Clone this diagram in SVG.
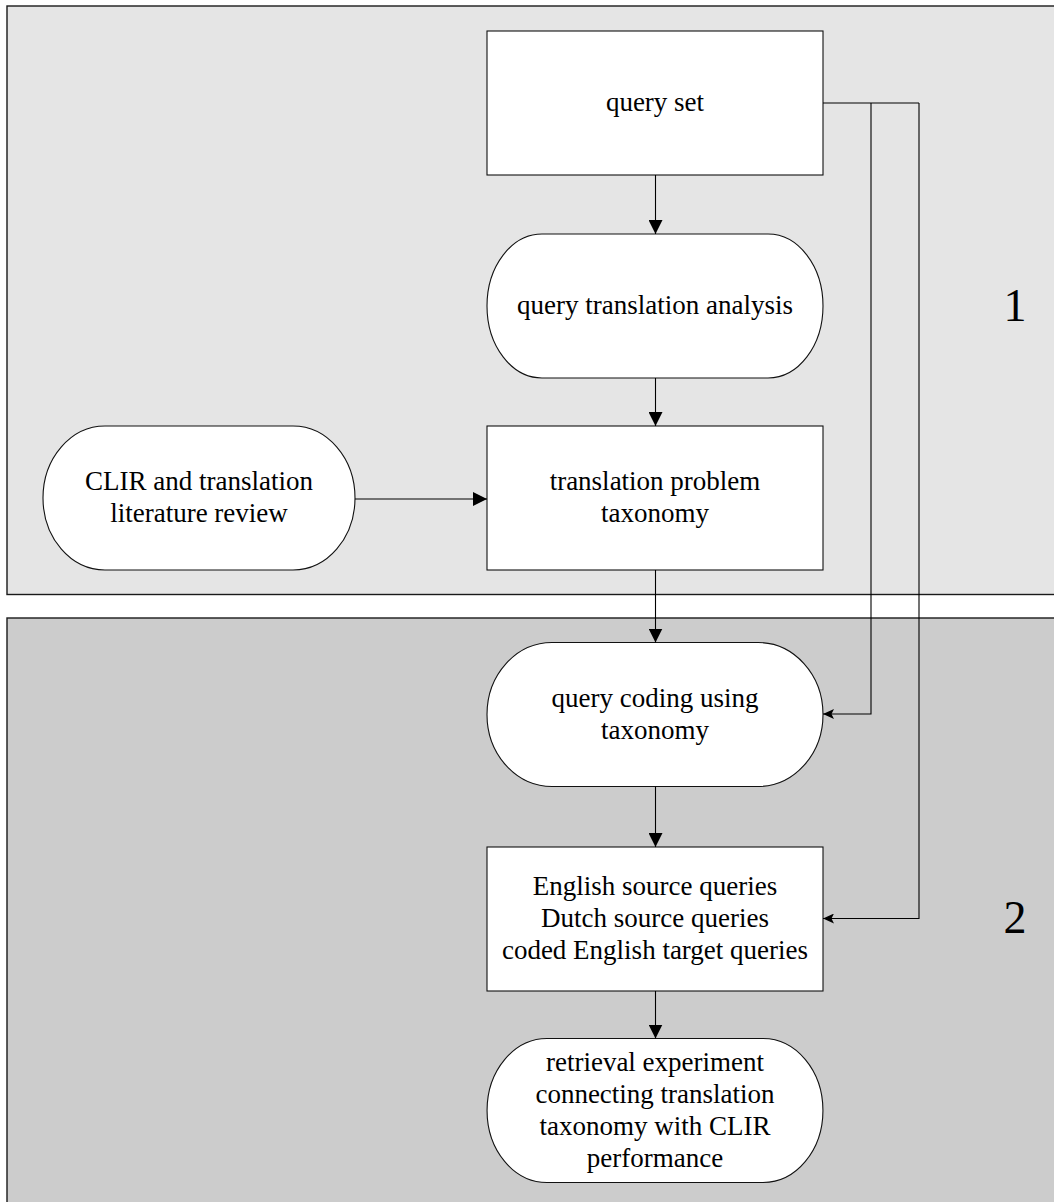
<svg xmlns="http://www.w3.org/2000/svg" width="1054" height="1202" viewBox="0 0 1054 1202">
  <style>
    .panel { stroke: #1a1a1a; stroke-width: 1.4; }
    .p1 { fill: #e5e5e5; }
    .p2 { fill: #cccccc; }
    .node { fill: #ffffff; stroke: #111111; stroke-width: 1.1; }
    .lbl { font-family: "Liberation Serif", "Times New Roman", serif; font-size: 27px; fill: #000; text-anchor: middle; }
    .num { font-family: "Liberation Serif", "Times New Roman", serif; font-size: 46px; fill: #000; text-anchor: middle; }
    .edge { fill: none; stroke: #000; stroke-width: 1.1; }
  </style>
  <defs>
    <marker id="arrowBig" markerUnits="userSpaceOnUse" markerWidth="14" markerHeight="14" refX="14" refY="7" orient="auto">
      <path d="M0,0 L14,7 L0,14 Z" fill="#000"/>
    </marker>
    <marker id="arrowSmall" markerUnits="userSpaceOnUse" markerWidth="11" markerHeight="10" refX="11" refY="5" orient="auto">
      <path d="M0,0 L11,5 L0,10 L2.5,5 Z" fill="#000"/>
    </marker>
  </defs>

  <rect width="1054" height="1202" fill="#ffffff"/>

  <!-- phase panels -->
  <g id="phase1">
    <rect class="panel p1" x="7" y="6" width="1100" height="588.5"/>
    <text class="num" x="1015" y="320.7">1</text>
  </g>
  <g id="phase2">
    <rect class="panel p2" x="7" y="618" width="1100" height="600"/>
    <text class="num" x="1015" y="933.3">2</text>
  </g>

  <!-- nodes -->
  <g id="query-set">
    <rect class="node" x="487" y="31" width="336" height="144"/>
    <text class="lbl" x="655" y="111">query set</text>
  </g>

  <g id="query-translation-analysis">
    <path class="node" d="M542,234 H768 A55,72 0 0 1 768,378 H542 A55,72 0 0 1 542,234 Z"/>
    <text class="lbl" x="655" y="314">query translation analysis</text>
  </g>

  <g id="literature-review">
    <path class="node" d="M105,426 H293 A62,72 0 0 1 293,570 H105 A62,72 0 0 1 105,426 Z"/>
    <text class="lbl" x="199" y="490">CLIR and translation</text>
    <text class="lbl" x="199" y="522">literature review</text>
  </g>

  <g id="translation-problem-taxonomy">
    <rect class="node" x="487" y="426" width="336" height="144"/>
    <text class="lbl" x="655" y="490">translation problem</text>
    <text class="lbl" x="655" y="522">taxonomy</text>
  </g>

  <g id="query-coding">
    <path class="node" d="M552,642.5 H758 A65,72 0 0 1 758,786.5 H552 A65,72 0 0 1 552,642.5 Z"/>
    <text class="lbl" x="655" y="706.5">query coding using</text>
    <text class="lbl" x="655" y="738.5">taxonomy</text>
  </g>

  <g id="query-sets">
    <rect class="node" x="487" y="847" width="336" height="144"/>
    <text class="lbl" x="655" y="895">English source queries</text>
    <text class="lbl" x="655" y="927">Dutch source queries</text>
    <text class="lbl" x="655" y="959">coded English target queries</text>
  </g>

  <g id="retrieval-experiment">
    <path class="node" d="M547,1038.5 H763 A60,72 0 0 1 763,1182.5 H547 A60,72 0 0 1 547,1038.5 Z"/>
    <text class="lbl" x="655" y="1071">retrieval experiment</text>
    <text class="lbl" x="655" y="1103">connecting translation</text>
    <text class="lbl" x="655" y="1135">taxonomy with CLIR</text>
    <text class="lbl" x="655" y="1167">performance</text>
  </g>

  <!-- connectors -->
  <g id="connectors">
    <path class="edge" d="M655.5,175 V234" marker-end="url(#arrowBig)"/>
    <path class="edge" d="M655.5,378 V426" marker-end="url(#arrowBig)"/>
    <path class="edge" d="M355,499 H487" marker-end="url(#arrowBig)"/>
    <path class="edge" d="M655.5,570 V642.5" marker-end="url(#arrowBig)"/>
    <path class="edge" d="M655.5,786.5 V847" marker-end="url(#arrowBig)"/>
    <path class="edge" d="M655.5,991 V1038.5" marker-end="url(#arrowBig)"/>
    <path class="edge" d="M823,103 H919"/>
    <path class="edge" d="M871,103 V714 H823" marker-end="url(#arrowSmall)"/>
    <path class="edge" d="M919,103 V918.5 H823" marker-end="url(#arrowSmall)"/>
  </g>
</svg>
